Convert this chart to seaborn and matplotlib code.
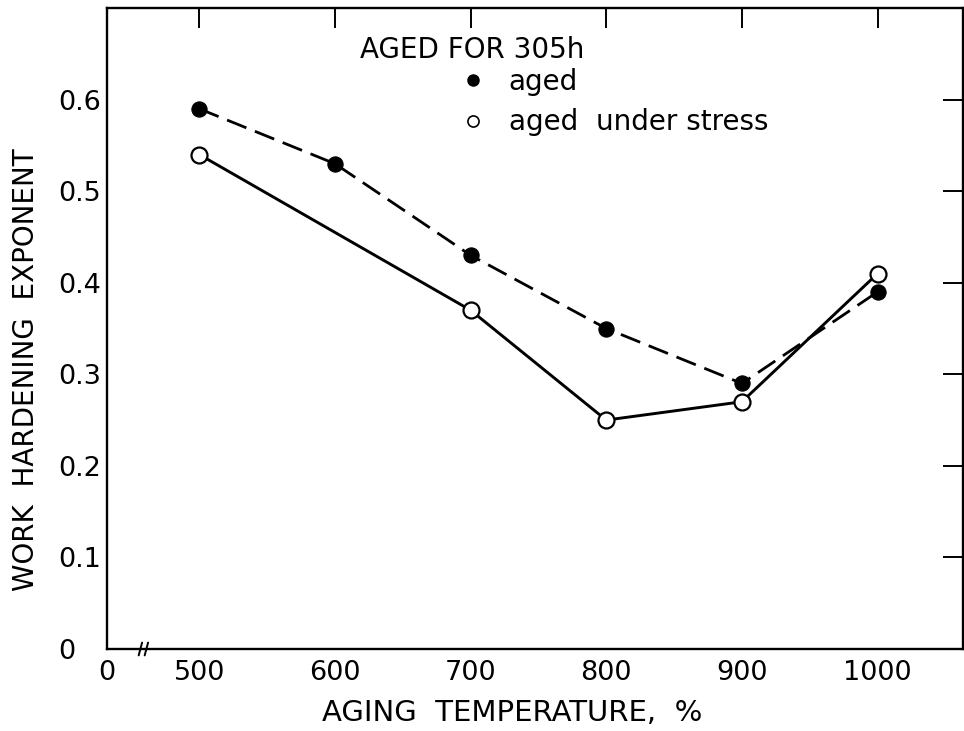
import matplotlib
matplotlib.use("Agg")
import matplotlib.pyplot as plt
import seaborn as sns
import pandas as pd
from matplotlib.lines import Line2D

# ---- data ----
temp_aged = [500, 600, 700, 800, 900, 1000]
n_aged = [0.59, 0.53, 0.43, 0.35, 0.29, 0.39]
temp_stress = [500, 700, 800, 900, 1000]
n_stress = [0.54, 0.37, 0.25, 0.27, 0.41]
xtick_vals = [500, 600, 700, 800, 900, 1000]
ytick_vals = [0.1, 0.2, 0.3, 0.4, 0.5, 0.6]

sns.set_theme(style="white")
plt.rcParams['font.family'] = ['DejaVu Sans']

fig = plt.figure(figsize=(9.64, 7.31), dpi=100)
ax = fig.add_axes([0.111, 0.1122, 0.888, 0.8768])

df_a = pd.DataFrame({"T": temp_aged, "n": n_aged})
df_s = pd.DataFrame({"T": temp_stress, "n": n_stress})

sns.lineplot(data=df_a, x="T", y="n", ax=ax, color="black", lw=2.0,
             dashes=False, linestyle=(0, (7.5, 3.3)), marker="o", markersize=11,
             markerfacecolor="black", markeredgecolor="black", sort=False, zorder=3)
sns.lineplot(data=df_s, x="T", y="n", ax=ax, color="black", lw=2.1,
             marker="o", markersize=11.5, markerfacecolor="white",
             markeredgecolor="black", markeredgewidth=1.6, sort=False, zorder=4)

x_left = 432
ax.set_xlim(x_left, 1063)
ax.set_ylim(0, 0.70)

ax.set_xticks([x_left] + xtick_vals)
ax.set_xticklabels(["0"] + [str(v) for v in xtick_vals])
ax.set_yticks([0] + ytick_vals)
ax.set_yticklabels(["0"] + [f"{v:.1f}" for v in ytick_vals])

ax.tick_params(axis="both", which="both", direction="in", length=14.5, width=1.4,
               color="black", top=True, right=True, labelsize=19.5,
               labelcolor="black")
ax.tick_params(axis="x", pad=8)
ax.tick_params(axis="y", pad=35)
for lab in ax.get_yticklabels():
    lab.set_horizontalalignment("left")

for s in ax.spines.values():
    s.set_visible(True)
    s.set_color("black")
    s.set_linewidth(1.7)

ax.set_xlabel("AGING  TEMPERATURE,  %", fontsize=21, color="black")
ax.set_ylabel("WORK  HARDENING  EXPONENT", fontsize=20, color="black")
ax.xaxis.set_label_coords(0.473, -0.078)
ax.yaxis.set_label_coords(-0.078, 0.435)

# axis break mark (two small slanted strokes on the x axis)
for bx in (0.039, 0.046):
    ax.plot([bx - 0.002, bx + 0.002], [-0.010, 0.010], transform=ax.transAxes,
            color="black", lw=1.4, clip_on=False, zorder=6)

# legend
ax.text(0.296, 0.935, "AGED FOR 305h", transform=ax.transAxes, fontsize=20,
        ha="left", va="center", color="black")
handles = [
    Line2D([], [], ls="none", marker="o", markersize=8, markerfacecolor="black",
           markeredgecolor="black"),
    Line2D([], [], ls="none", marker="o", markersize=8, markerfacecolor="white",
           markeredgecolor="black", markeredgewidth=1.2),
]
leg = ax.legend(handles, ["aged", "aged  under stress"], loc="upper left",
                bbox_to_anchor=(0.415, 0.907), frameon=False, fontsize=20,
                handlelength=0.8, handletextpad=0.87, labelspacing=0.46,
                borderpad=0, borderaxespad=0)
for t in leg.get_texts():
    t.set_color("black")

fig.savefig("out.png", dpi=100, facecolor="white")
